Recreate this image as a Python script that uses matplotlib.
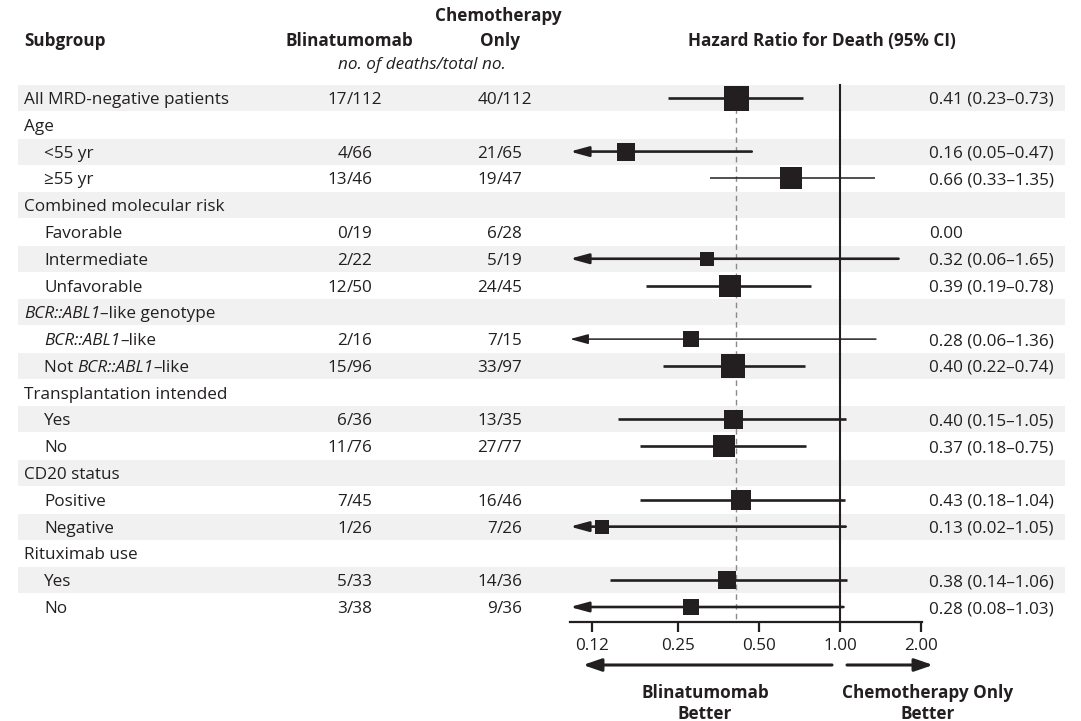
import numpy as np
import matplotlib.pyplot as plt
from matplotlib.patches import Rectangle

plt.rcParams['font.family'] = ['Open Sans', 'DejaVu Sans']
plt.rcParams['font.size'] = 12.3

INK = '#231f20'

# ---- data ----
subgroups = ["All MRD-negative patients", "Age", "<55 yr", "≥55 yr",
             "Combined molecular risk", "Favorable", "Intermediate", "Unfavorable",
             "BCR::ABL1–like genotype", "BCR::ABL1–like", "Not BCR::ABL1–like",
             "Transplantation intended", "Yes", "No",
             "CD20 status", "Positive", "Negative",
             "Rituximab use", "Yes", "No"]
blin = ["17/112", None, "4/66", "13/46", None, "0/19", "2/22", "12/50",
        None, "2/16", "15/96", None, "6/36", "11/76", None, "7/45", "1/26",
        None, "5/33", "3/38"]
chemo = ["40/112", None, "21/65", "19/47", None, "6/28", "5/19", "24/45",
         None, "7/15", "33/97", None, "13/35", "27/77", None, "16/46", "7/26",
         None, "14/36", "9/36"]
nan = np.nan
hr = [0.41, nan, 0.16, 0.66, nan, 0.00, 0.32, 0.39, nan, 0.28, 0.40, nan,
      0.40, 0.37, nan, 0.43, 0.13, nan, 0.38, 0.28]
lo = [0.23, nan, 0.05, 0.33, nan, nan, 0.06, 0.19, nan, 0.06, 0.22, nan,
      0.15, 0.18, nan, 0.18, 0.02, nan, 0.14, 0.08]
hi = [0.73, nan, 0.47, 1.35, nan, nan, 1.65, 0.78, nan, 1.36, 0.74, nan,
      1.05, 0.75, nan, 1.04, 1.05, nan, 1.06, 1.03]
tick_vals = [0.12, 0.25, 0.5, 1.0, 2.0]
tick_labels = ["0.12", "0.25", "0.50", "1.00", "2.00"]

# ---- styling ----
indent = [0, 0, 1, 1, 0, 1, 1, 1, 0, 1, 1, 0, 1, 1, 0, 1, 1, 0, 1, 1]
box_px = [25, 0, 17.7, 22.3, 0, 0, 14.7, 23, 0, 15.7, 24.3, 0,
          19, 22.7, 0, 20.3, 13.3, 0, 18.7, 16.3]
thin_rows = {3, 9}

W, H = 1081, 721
row0, pitch = 98, 26.79
px_one, px_dbl = 840, 81          # pixel of HR=1 and pixels per doubling
ax_left, ax_right, ax_y = 570, 922, 622
dy = 2                            # text sits a touch low in its band


def row_y(i):
    return row0 + pitch * i


fig = plt.figure(figsize=(W / 100, H / 100), dpi=100)
bg = fig.add_axes([0, 0, 1, 1])
bg.set_xlim(0, W)
bg.set_ylim(H, 0)
bg.axis('off')

# alternating bands
for i in range(len(subgroups)):
    if i % 2 == 0:
        bg.add_patch(Rectangle((18, row_y(i) - 13), 1047, 26,
                               facecolor='#f1f1f1', edgecolor='none', zorder=0))

# header
bg.text(24, 41, "Subgroup", weight='bold', ha='left', va='center', color=INK)
bg.text(349, 41, "Blinatumomab", weight='bold', ha='center', va='center', color=INK)
bg.text(498, 16, "Chemotherapy", weight='bold', ha='center', va='center', color=INK)
bg.text(500, 41, "Only", weight='bold', ha='center', va='center', color=INK)
bg.text(422, 65, "no. of deaths/total no.", style='italic', ha='center',
        va='center', color=INK)
bg.text(822, 41, "Hazard Ratio for Death (95% CI)", weight='bold', ha='center',
        va='center', color=INK)


def mixed_label(x, y, label):
    # italicise the gene name inside the label
    parts = []
    if "BCR::ABL1" in label:
        pre, post = label.split("BCR::ABL1", 1)
        if pre:
            parts.append((pre, 'normal'))
        parts.append(("BCR::ABL1", 'italic'))
        parts.append((post, 'normal'))
    else:
        parts.append((label, 'normal'))
    t = bg.text(x, y, parts[0][0], style=parts[0][1], ha='left', va='center',
                color=INK)
    for txt, st in parts[1:]:
        t = bg.annotate(txt, xy=(1, 0), xycoords=t, ha='left', va='bottom',
                        style=st, color=INK)


for i, name in enumerate(subgroups):
    y = row_y(i) + dy
    mixed_label(24 + 20 * indent[i], y, name)
    for col, slash_x in ((blin, 347), (chemo, 497)):
        if col[i]:
            num, den = col[i].split("/")
            bg.text(slash_x, y, num, ha='right', va='center', color=INK)
            bg.text(slash_x, y, "/" + den, ha='left', va='center', color=INK)
    if not np.isnan(hr[i]):
        if np.isnan(lo[i]):
            s = f"{hr[i]:.2f}"
        else:
            s = f"{hr[i]:.2f} ({lo[i]:.2f}–{hi[i]:.2f})"
        bg.text(929, y, s, ha='left', va='center', color=INK)

# direction arrows and labels under the axis
arr = dict(arrowstyle='-|>,head_length=1.1,head_width=0.38', lw=2.2,
           color=INK, shrinkA=0, shrinkB=0, mutation_scale=10)
bg.annotate('', xy=(583, 665), xytext=(832, 665), arrowprops=arr)
bg.annotate('', xy=(933, 665), xytext=(847, 665), arrowprops=arr)
for x, lines in ((705, ["Blinatumomab", "Better"]),
                 (928, ["Chemotherapy Only", "Better"])):
    bg.text(x, 693, lines[0], weight='bold', ha='center', va='center', color=INK)
    bg.text(x, 714, lines[1], weight='bold', ha='center', va='center', color=INK)

# ---- forest panel ----
xmin = 2 ** ((ax_left - px_one) / px_dbl)
xmax = 2 ** ((ax_right - px_one) / px_dbl)
ax = fig.add_axes([ax_left / W, 0, (ax_right - ax_left) / W, 1])
ax.patch.set_alpha(0)
ax.set_xscale('log')
ax.set_xlim(xmin, xmax)
ax.set_ylim(H, 0)
for s in ('top', 'left', 'right'):
    ax.spines[s].set_visible(False)
ax.spines['bottom'].set_position(('data', ax_y))
ax.spines['bottom'].set_linewidth(1.6)
ax.spines['bottom'].set_color(INK)
ax.set_yticks([])
ax.set_xticks(tick_vals)
ax.set_xticklabels(tick_labels)
ax.xaxis.set_minor_locator(plt.NullLocator())
ax.tick_params(axis='x', direction='out', length=7, width=1.6, color=INK,
               labelcolor=INK, labelsize=12.3, pad=4.5)

ax.plot([1, 1], [85, ax_y], color=INK, lw=1.5, zorder=2)
ax.plot([hr[0], hr[0]], [row0, ax_y], color='#8a8a8a', lw=1.0,
        dashes=(4, 3), zorder=1)

for i in range(len(subgroups)):
    if np.isnan(lo[i]):
        continue
    y = row_y(i)
    lw = 1.1 if i in thin_rows else 1.9
    if lo[i] < xmin:
        ax.annotate('', xy=(xmin, y), xytext=(hi[i], y), annotation_clip=False,
                    arrowprops=dict(arrowstyle='-|>,head_length=1.1,head_width=0.3',
                                    lw=lw, color=INK, shrinkA=0, shrinkB=0,
                                    mutation_scale=10), zorder=3)
    else:
        ax.plot([lo[i], hi[i]], [y, y], color=INK, lw=lw, zorder=3,
                solid_capstyle='butt')
    ax.plot(hr[i], y, marker='s', markersize=box_px[i] * 0.72, color=INK,
            markeredgewidth=0, zorder=4, clip_on=False)

fig.savefig('out.png', dpi=100)
